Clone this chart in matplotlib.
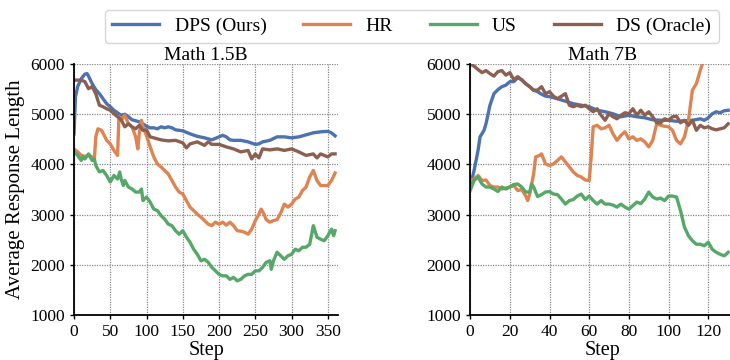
import matplotlib
matplotlib.use("Agg")
import matplotlib.pyplot as plt

plt.rcParams['font.family'] = ['Liberation Serif', 'DejaVu Serif']
plt.rcParams['font.size'] = 12

c_dps, c_hr, c_us, c_ds = '#4C72B0', '#DD8452', '#55A868', '#8C6051'
labels = ['DPS (Ours)', 'HR', 'US', 'DS (Oracle)']

# ---- Math 1.5B ----
dps15_x = [0, 2, 5, 10, 15, 18, 20, 25, 30, 35, 40, 45, 50, 55, 60, 65, 70, 75, 80, 85, 90, 95, 100,
           105, 110, 115, 120, 125, 130, 135, 140, 150, 160, 170, 180, 190, 200, 205, 210, 215, 220,
           230, 240, 250, 255, 260, 270, 280, 290, 300, 310, 320, 330, 340, 350, 355, 360]
dps15_y = [4610, 5350, 5550, 5710, 5800, 5810, 5760, 5610, 5490, 5410, 5310, 5210, 5150, 5080, 5030,
           4980, 5000, 4950, 4890, 4870, 4850, 4810, 4760, 4730, 4730, 4710, 4750, 4730, 4750, 4730,
           4690, 4670, 4610, 4560, 4530, 4490, 4550, 4580, 4550, 4490, 4480, 4480, 4450, 4400, 4410,
           4450, 4480, 4550, 4550, 4530, 4550, 4590, 4630, 4650, 4660, 4630, 4570]

ds15_x = [0, 10, 15, 20, 25, 30, 35, 40, 45, 50, 55, 60, 65, 70, 75, 80, 85, 90, 95, 100, 105, 110,
          120, 130, 140, 150, 155, 160, 170, 180, 185, 190, 200, 210, 220, 230, 240, 245, 250, 255,
          260, 270, 280, 290, 300, 310, 320, 330, 335, 340, 350, 355, 360]
ds15_y = [5680, 5680, 5650, 5510, 5550, 5410, 5180, 5150, 5110, 5080, 5010, 4950, 4890, 4750, 4810,
          4750, 4710, 4780, 4680, 4690, 4550, 4530, 4490, 4470, 4480, 4430, 4330, 4410, 4450, 4380,
          4450, 4400, 4400, 4350, 4310, 4250, 4280, 4110, 4210, 4130, 4310, 4290, 4310, 4280, 4310,
          4250, 4180, 4210, 4130, 4210, 4150, 4210, 4210]

hr15_x = [0, 5, 10, 15, 20, 25, 28, 30, 33, 38, 42, 45, 50, 55, 60, 62, 65, 70, 75, 80, 85, 88, 90,
          93, 95, 100, 105, 110, 115, 120, 125, 130, 135, 140, 145, 150, 155, 160, 165, 170, 175, 180,
          185, 190, 195, 200, 205, 210, 215, 220, 225, 230, 235, 240, 245, 250, 255, 258, 262, 265,
          270, 275, 280, 285, 290, 295, 300, 305, 310, 315, 320, 325, 330, 335, 340, 345, 350, 355, 360]
hr15_y = [4310, 4250, 4180, 4160, 4180, 4150, 4080, 4550, 4710, 4680, 4570, 4480, 4410, 4280, 4180,
          4950, 4880, 4980, 4810, 4750, 4550, 4310, 4620, 4880, 4750, 4570, 4350, 4150, 4010, 3950,
          3880, 3810, 3680, 3550, 3450, 3410, 3280, 3150, 3080, 3010, 2950, 2880, 2810, 2780, 2850,
          2810, 2850, 2790, 2850, 2780, 2680, 2670, 2650, 2610, 2710, 2880, 3010, 3110, 3010, 2900,
          2850, 2880, 2900, 3030, 3210, 3150, 3210, 3310, 3350, 3480, 3550, 3750, 3880, 3680, 3580,
          3580, 3580, 3680, 3830]

us15_x = [0, 5, 10, 12, 15, 20, 25, 28, 30, 35, 40, 45, 50, 55, 60, 63, 65, 68, 70, 75, 80, 85, 90,
          93, 95, 100, 105, 110, 115, 120, 125, 130, 135, 140, 145, 150, 155, 160, 165, 170, 175, 180,
          185, 190, 195, 200, 205, 210, 215, 220, 225, 230, 235, 240, 245, 250, 255, 260, 265, 270,
          272, 275, 280, 285, 290, 295, 300, 305, 310, 315, 320, 325, 330, 335, 340, 345, 350, 355,
          358, 360]
us15_y = [4250, 4180, 4080, 4150, 4110, 4210, 4080, 4110, 3980, 3850, 3880, 3780, 3650, 3780, 3710,
          3850, 3710, 3580, 3680, 3550, 3510, 3450, 3450, 3510, 3280, 3350, 3250, 3110, 3080, 2980,
          2910, 2810, 2780, 2680, 2610, 2680, 2550, 2450, 2310, 2210, 2080, 2110, 2050, 1950, 1880,
          1810, 1780, 1780, 1710, 1750, 1680, 1710, 1780, 1810, 1810, 1880, 1880, 1950, 2050, 2080,
          1910, 2080, 2250, 2180, 2110, 2180, 2210, 2310, 2280, 2350, 2350, 2410, 2780, 2550, 2510,
          2480, 2580, 2710, 2580, 2680]

# ---- Math 7B ----
dps7_x = [0, 2, 4, 5, 7, 8, 10, 12, 14, 16, 18, 20, 22, 24, 26, 28, 30, 32, 34, 36, 38, 40, 44, 48,
          52, 56, 60, 64, 68, 72, 76, 80, 84, 88, 92, 96, 100, 104, 108, 112, 116, 118, 120, 122, 124,
          126, 128, 130]
dps7_y = [3550, 3880, 4280, 4550, 4680, 4810, 5180, 5410, 5490, 5550, 5580, 5650, 5650, 5730, 5690,
          5610, 5550, 5480, 5450, 5400, 5360, 5350, 5310, 5260, 5210, 5180, 5150, 5080, 5050, 5010,
          4950, 4980, 4950, 4930, 4890, 4880, 4880, 4860, 4870, 4880, 4910, 4880, 4930, 5010, 5050,
          5030, 5070, 5080]

ds7_x = list(range(0, 131, 2))
ds7_y = [6000, 5960, 5890, 5830, 5870, 5810, 5760, 5850, 5870, 5780, 5830, 5690, 5750, 5680, 5610,
         5550, 5480, 5480, 5550, 5410, 5450, 5360, 5310, 5360, 5410, 5180, 5150, 5180, 5150, 5180,
         5110, 5050, 5110, 4980, 4880, 5010, 4950, 4910, 4980, 5030, 5010, 5110, 4980, 5080, 4980,
         5050, 4950, 4830, 4830, 4910, 4880, 4950, 4960, 4830, 4880, 4780, 4880, 4680, 4780, 4730,
         4750, 4710, 4690, 4710, 4730, 4810]

hr7_x = [0, 2, 4, 6, 8, 10, 12, 14, 16, 18, 20, 22, 24, 26, 28, 29, 30, 32, 33, 35, 36, 38, 40, 42,
         44, 46, 48, 50, 52, 54, 56, 58, 60, 61, 62, 64, 66, 68, 70, 72, 74, 76, 78, 80, 82, 84, 86,
         88, 90, 92, 94, 96, 98, 100, 102, 104, 106, 108, 110, 112, 114, 116, 117, 118]
hr7_y = [3680, 3710, 3780, 3680, 3690, 3580, 3550, 3550, 3510, 3530, 3550, 3580, 3480, 3500, 3370,
         3280, 3410, 3810, 4150, 4180, 4210, 4010, 3980, 4010, 4080, 4150, 4050, 3950, 3850, 3780,
         3750, 3690, 3680, 4150, 4750, 4780, 4710, 4730, 4780, 4610, 4480, 4580, 4650, 4510, 4550,
         4480, 4510, 4450, 4350, 4480, 4810, 4780, 4760, 4750, 4680, 4480, 4410, 4550, 4880, 5480,
         5610, 5880, 6000, 6250]

us7_x = [0, 2, 4, 6, 8, 10, 12, 14, 16, 18, 20, 22, 24, 26, 28, 30, 31, 32, 34, 36, 38, 40, 42, 44,
         46, 48, 50, 52, 54, 56, 58, 60, 62, 64, 66, 68, 70, 72, 74, 76, 78, 80, 82, 84, 86, 88, 90,
         92, 94, 96, 98, 100, 102, 104, 106, 108, 110, 112, 114, 116, 118, 120, 122, 124, 126, 128,
         129, 130]
us7_y = [3480, 3680, 3750, 3610, 3550, 3550, 3510, 3460, 3550, 3510, 3550, 3600, 3610, 3550, 3450,
         3450, 3610, 3550, 3360, 3400, 3450, 3460, 3410, 3400, 3310, 3210, 3280, 3300, 3370, 3410,
         3300, 3370, 3280, 3210, 3280, 3210, 3210, 3190, 3150, 3210, 3150, 3110, 3180, 3250, 3220,
         3310, 3450, 3350, 3310, 3330, 3280, 3370, 3370, 3350, 3080, 2750, 2580, 2480, 2410, 2410,
         2380, 2450, 2310, 2250, 2210, 2180, 2210, 2250]

fig = plt.figure(figsize=(7.3, 3.6), dpi=100)
ax1 = fig.add_axes([0.1014, 0.125, 0.3616, 0.697])
ax2 = fig.add_axes([0.644, 0.125, 0.3616, 0.697])

lw = 2.4
ax1.plot(dps15_x, dps15_y, color=c_dps, lw=lw, label=labels[0])
ax1.plot(hr15_x, hr15_y, color=c_hr, lw=lw, label=labels[1])
ax1.plot(us15_x, us15_y, color=c_us, lw=lw, label=labels[2])
ax1.plot(ds15_x, ds15_y, color=c_ds, lw=lw, label=labels[3])

ax2.plot(dps7_x, dps7_y, color=c_dps, lw=lw)
ax2.plot(hr7_x, hr7_y, color=c_hr, lw=lw)
ax2.plot(us7_x, us7_y, color=c_us, lw=lw)
ax2.plot(ds7_x, ds7_y, color=c_ds, lw=lw)

for ax, title, xmax, xt in [(ax1, 'Math 1.5B', 364, range(0, 351, 50)),
                            (ax2, 'Math 7B', 133, range(0, 121, 20))]:
    ax.set_xlim(0, xmax)
    ax.set_ylim(1000, 6000)
    ax.set_xticks(list(xt))
    ax.set_yticks(range(1000, 6001, 1000))
    ax.set_title(title, fontsize=14, pad=3)
    ax.set_xlabel('Step', fontsize=14.5, labelpad=0.5)
    ax.grid(True, linestyle=(0, (1, 1)), color='#888888', linewidth=0.9)
    ax.spines['top'].set_visible(False)
    ax.spines['right'].set_visible(False)
    ax.spines['left'].set_linewidth(1.3)
    ax.spines['bottom'].set_linewidth(1.3)
    ax.tick_params(labelsize=12.5, length=3, width=1)

ax1.set_ylabel('Average Response Length', fontsize=15, labelpad=4)

fig.legend(loc='upper center', bbox_to_anchor=(0.564, 1.0), ncol=4, fontsize=14,
           handlelength=2.4, columnspacing=1.9, frameon=True, edgecolor='#cccccc',
           borderpad=0.4, handletextpad=0.8)

fig.savefig('out.png', dpi=100)
